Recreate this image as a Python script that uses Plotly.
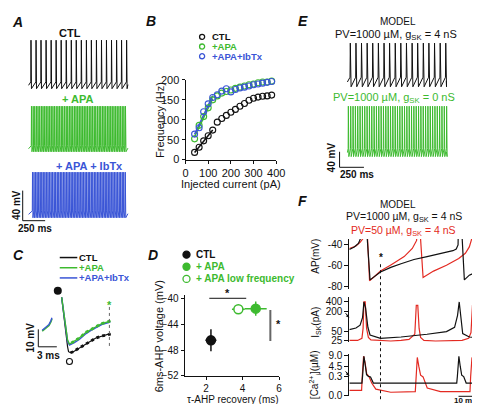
import numpy as np
import plotly.graph_objects as go

W, H = 480, 404
FONT = "Liberation Sans, Arial, Helvetica, sans-serif"
BLACK = "#111111"
GREEN = "#3dba2f"
BLUE = "#3a55d6"
RED = "#e32a22"
GRAY = "#666666"

# ---------------- data ----------------
# Panel A: spike times (ms) of the three recordings, voltage levels [peak, threshold, trough] (mV)
a_ctl_spikes = [26, 80, 133, 187, 241, 294, 348, 402, 456, 509, 563, 617, 670, 724, 778, 831, 885, 939, 992, 1046]
a_apa_spikes = [31, 49, 66, 84, 101, 119, 137, 154, 172, 189, 207, 225, 242, 260, 277, 295, 313, 330, 348, 365,
                383, 401, 418, 436, 453, 471, 489, 506, 524, 541, 559, 577, 594, 612, 629, 647, 665, 682, 700, 717,
                735, 753, 770, 788, 805, 823, 841, 858, 876, 893, 911, 929, 946, 964, 981, 999, 1017, 1034]
a_ibtx_spikes = [42, 58, 75, 91, 108, 124, 141, 157, 174, 190, 207, 223, 240, 256, 273, 289, 306, 322, 339, 355,
                 372, 388, 405, 421, 438, 454, 471, 487, 504, 520, 537, 553, 570, 586, 603, 619, 636, 652, 669, 685,
                 702, 718, 735, 751, 768, 784, 801, 817, 834, 850, 867, 883, 900, 916, 933, 949, 966, 982, 999, 1015, 1032]
a_ctl_levels = [5, -50, -59]
a_apa_levels = [5, -47, -55]
a_ibtx_levels = [5, -46, -55]

# Panel B: f-I curves
b_current = [40, 60, 80, 100, 120, 140, 160, 180, 200, 220, 240, 260, 280, 300, 320, 340, 360, 380]
b_ctl = [18, 31, 47, 60, 74, 94, 103, 111, 119, 126, 134, 141, 149, 154, 157, 159, 160, 162]
b_apa = [52, 86, 108, 130, 150, 160, 167, 171, 175, 179, 182, 185, 188, 190, 193, 195, 195, 197]
b_ibtx = [64, 80, 120, 140, 156, 163, 172, 178, 170, 176, 180, 182, 185, 188, 190, 192, 194, 196]
b_names = ["CTL", "+APA", "+APA+IbTx"]

# Panel C: AHP waveforms (ms, mV)
c_pre_t = [-2.54, -1.9, -1.43, -1.11, -0.95]
c_pre_v = [-44.3, -42.7, -41.0, -38.8, -37.2]
c_ctl_t = [0.63, 0.95, 1.27, 1.59, 1.75, 2.06, 2.54, 3.02, 3.81, 4.6, 5.4, 6.2, 7.1, 8.25, 8.6]
c_ctl_v = [-24.9, -35, -46, -53.2, -56, -56.6, -56, -54.9, -53.2, -51.6, -49.9, -48.2, -47.1, -46, -46]
c_apa_t = [0.63, 0.95, 1.27, 1.59, 1.9, 2.22, 2.7, 3.49, 4.6, 5.4, 6.2, 7.14, 8.25, 8.57]
c_apa_v = [-24.9, -33.8, -43.2, -49.3, -51.6, -51, -49.9, -48.2, -44.9, -43.2, -41.5, -39.9, -38.8, -38.2]
c_ibtx_v = [-24.9, -34.5, -44, -50, -52.2, -51.8, -50.8, -49, -45.6, -43.8, -42.1, -40.5, -39.3, -38.8]
c_peak_point = [0.0, -21.1]
c_trough_point = [1.9, -61.6]
c_measure_t = 8.4

# Panel D: summary
d_names = ["CTL", "+ APA", "+ APA low frequency"]
d_tau = [2.27, 4.72, 3.77]
d_tau_err = [0.3, 0.6, 0.35]
d_volt = [-46.5, -41.6, -41.7]
d_volt_err = [1.7, 1.1, 0.7]

# Panel E: model spike times (ms), levels [peak, threshold, trough]
e_gsk4_spikes = [30, 88, 145, 203, 260, 318, 376, 433, 491, 548, 606, 664, 721, 779, 836, 894, 952, 1009]
e_gsk0_spikes = [10, 34, 58, 82, 106, 130, 154, 178, 202, 226, 250, 274, 298, 322, 346, 370, 394, 418, 442, 466,
                 490, 514, 538, 562, 586, 610, 634, 658, 682, 706, 730, 754, 778, 802, 826, 850, 874, 898, 922, 946,
                 970, 994, 1018]
e_gsk4_levels = [30, -56, -80]
e_gsk0_levels = [30, -75, -95]

# Panel F: model traces (ms)
f_ap1000_t = [0, 3, 5.5, 6.7, 8.5, 10.2, 12.5, 18.8, 25, 31.2, 39, 46.9, 52.7, 58.6, 62.5, 64.5, 65.6, 66.3, 67.5, 69.4, 72.4, 78]
f_ap1000_v = [-44.3, -42, -38.5, -34, 20, -20, -73.5, -66, -61.5, -58, -54, -51.2, -49, -47, -45.5, -44, -40, 20, -20, -73.5, -69, -65]
f_ap50_t = [0, 4, 6.5, 8.2, 9.4, 10.6, 12.2, 15, 18.8, 25.3, 33.1, 38, 40.6, 41.3, 42.4, 44.5, 50.8, 58.6, 66, 70, 72.4, 73.7, 74.6, 75.8, 76.4]
f_ap50_v = [-43.4, -41, -37.5, -34, 20, -20, -74.4, -70.5, -65.1, -58.9, -51.2, -43.4, -35.7, 20, -20, -71.3, -65.1, -59.5, -53, -48, -41.9, -35, 20, -20, -57]
f_isk1000_t = [0, 4, 6.5, 8.0, 8.8, 9.8, 11.2, 12.5, 18.8, 31.2, 46.9, 58.6, 63.5, 65.3, 66.3, 67.2, 68.4, 72.4, 78]
f_isk1000_v = [55, 62, 75, 130, 380, 250, 65, 38, 30, 33, 40, 48, 65, 150, 380, 160, 42, 33, 31]
f_isk50_t = [0, 5, 7.6, 8.3, 8.8, 9.6, 10.4, 11.5, 13, 18.8, 25, 31.2, 36, 39.5, 40.4, 41.3, 42.1, 43, 45, 52, 60, 68, 72, 73.4, 74.3, 75.2, 76, 78]
f_isk50_v = [26, 26, 30, 60, 380, 380, 60, 32, 27, 26, 25, 26, 28, 40, 300, 300, 60, 32, 26, 25, 25, 26, 30, 45, 300, 300, 60, 35]
f_ca1000_t = [0, 7.6, 8.0, 8.8, 9.6, 10.4, 11.5, 12.8, 14.5, 30, 50, 64.8, 65.2, 66.1, 66.9, 67.8, 69, 70.5, 78]
f_ca1000_c = [0.2, 0.2, 0.6, 8.7, 5.0, 1.2, 0.5, 0.3, 0.2, 0.2, 0.2, 0.2, 0.6, 8.7, 4.5, 1.0, 0.4, 0.2, 0.2]
f_ca50_t = [0, 7.4, 7.8, 8.6, 9.5, 10.5, 11.8, 13.5, 16, 25, 39.8, 40.2, 41.0, 41.9, 43, 44.5, 47, 55, 72.8, 73.2, 74.0, 74.9, 76, 77.5, 78]
f_ca50_c = [0.08, 0.08, 0.5, 8.7, 6, 1.5, 0.5, 0.2, 0.1, 0.05, 0.06, 0.5, 8.2, 4.5, 1.0, 0.3, 0.12, 0.06, 0.06, 0.5, 8.2, 4.5, 1.0, 0.3, 0.2]
f_ca_ticks = [0.0, 0.3, 4.5, 9.0]
f_ca_tick_pos = [0, 19, 30, 41]   # broken (non-linear) display scale of the Ca axis
f_marker_t = 18.8

# ---------------- helpers ----------------
layout_axes = {}
count = [0]


def lin_range(va, pa, vb, pb, p0, p1):
    s = (vb - va) / (pb - pa)
    return [va + (p0 - pa) * s, va + (p1 - pa) * s]


def new_axes(xdom, ydom, xrange, yrange, xkw=None, ykw=None):
    count[0] += 1
    n = count[0]
    sx = '' if n == 1 else str(n)
    xa = dict(domain=[xdom[0] / W, xdom[1] / W], range=xrange, anchor='y' + sx,
              showgrid=False, zeroline=False, visible=False, fixedrange=True)
    ya = dict(domain=[1 - ydom[1] / H, 1 - ydom[0] / H], range=yrange, anchor='x' + sx,
              showgrid=False, zeroline=False, visible=False, fixedrange=True)
    if xkw:
        xa.update(xkw)
    if ykw:
        ya.update(ykw)
    layout_axes['xaxis' + sx] = xa
    layout_axes['yaxis' + sx] = ya
    return 'x' + sx, 'y' + sx


def spike_train(spikes, t_end, levels, rise=2.0, fall=5.0):
    peak, thr, trough = levels
    t = [0.0]
    v = [trough + 0.5 * (thr - trough)]
    for s in spikes:
        t += [s - rise, s, s + fall]
        v += [thr, peak, trough]
    t.append(t_end)
    v.append(trough + 0.6 * (thr - trough))
    return t, v


annotations = []
shapes = []


def ann(text, x, y, size=10, color=BLACK, angle=0, xanchor='center', yanchor='middle'):
    annotations.append(dict(text=text, x=x / W, y=1 - y / H, xref='paper', yref='paper',
                            showarrow=False, textangle=angle, xanchor=xanchor, yanchor=yanchor,
                            borderpad=0, font=dict(size=size, color=color, family=FONT)))


def pline(x0, y0, x1, y1, color=BLACK, width=1, dash='solid'):
    shapes.append(dict(type='line', xref='paper', yref='paper', x0=x0 / W, y0=1 - y0 / H,
                       x1=x1 / W, y1=1 - y1 / H, line=dict(color=color, width=width, dash=dash)))


def pcircle(cx, cy, r, fill, line):
    shapes.append(dict(type='circle', xref='paper', yref='paper', x0=(cx - r) / W, x1=(cx + r) / W,
                       y0=1 - (cy + r) / H, y1=1 - (cy - r) / H, fillcolor=fill,
                       line=dict(color=line, width=1.3)))


fig = go.Figure()


def line_trace(xa, ya, t, v, color, width=1.0, dash='solid', mode='lines'):
    fig.add_trace(go.Scatter(x=t, y=v, xaxis=xa, yaxis=ya, mode=mode,
                             line=dict(color=color, width=width, dash=dash), hoverinfo='skip'))


# ---------------- Panel A ----------------
a_xr = lin_range(0, 18, 1040, 118, 17, 121)
for spikes, lev, color, (top, bot) in [
        (a_ctl_spikes, a_ctl_levels, BLACK, (27, 77)),
        (a_apa_spikes, a_apa_levels, GREEN, (95, 142)),
        (a_ibtx_spikes, a_ibtx_levels, BLUE, (163, 210))]:
    ax, ay = new_axes((17, 121), (top - 3, bot + 3), a_xr,
                      lin_range(lev[0], top, lev[2], bot, bot + 3, top - 3))
    t, v = spike_train(spikes, 1060, lev, rise=2.0, fall=5.0)
    line_trace(ax, ay, t, v, color, 1.0)

ann("<b><i>A</i></b>", 7, 8, 14)
ann("<b>CTL</b>", 60, 20, 11)
ann("<b>+ APA</b>", 69, 88, 11, GREEN)
ann("<b>+ APA + IbTx</b>", 80, 157, 11, BLUE)
pline(12, 182, 12, 213)
pline(12, 213, 35, 213)
ann("<b>40 mV</b>", 5, 197, 10, angle=-90)
ann("<b>250 ms</b>", 25, 221, 10)

# ---------------- Panel B ----------------
axis_style = dict(visible=True, showline=True, linecolor=BLACK, linewidth=1, ticks='outside',
                  ticklen=3, tickwidth=1, tickcolor=BLACK, tickfont=dict(size=11, color=BLACK, family=FONT))
bx, by = new_axes((179, 272), (68, 150), [0, 400], [0, 200],
                  dict(axis_style, tickvals=[0, 100, 200, 300, 400]),
                  dict(axis_style, tickvals=[0, 50, 100, 150, 200]))
for vals, color in [(b_ctl, BLACK), (b_apa, GREEN), (b_ibtx, BLUE)]:
    cur = np.array(b_current[:5], dtype=float)
    k, c0 = np.polyfit(cur, np.array(vals[:5], dtype=float), 1)
    line_trace(bx, by, [cur[0], cur[-1]], [k * cur[0] + c0, k * cur[-1] + c0], color, 1.5)
for vals, color in [(b_ctl, BLACK), (b_apa, GREEN), (b_ibtx, BLUE)]:
    fig.add_trace(go.Scatter(x=b_current, y=vals, xaxis=bx, yaxis=by, mode='markers', cliponaxis=False,
                             marker=dict(symbol='circle-open', size=6, color=color, line=dict(width=1.1)),
                             hoverinfo='skip'))
ann("<b><i>B</i></b>", 144, 7, 14)
for i, (name, color) in enumerate(zip(b_names, [BLACK, GREEN, BLUE])):
    yy = 23.5 + i * 10
    pcircle(196, yy, 2.6, 'rgba(0,0,0,0)', color)
    ann("<b>" + name + "</b>", 205, yy, 9.5, color, xanchor='left')
ann("Frequency (Hz)", 153, 109, 11, angle=-90)
ann("Injected current (pA)", 226, 175, 11)

# ---------------- Panel C ----------------
cx, cy = new_axes((18, 112), (278, 364), lin_range(0, 48, 1, 54.3, 18, 112),
                  lin_range(-46, 330, -56, 348, 364, 278))
line_trace(cx, cy, c_pre_t, c_pre_v, GREEN, 1.6)
line_trace(cx, cy, c_pre_t, [v + 0.6 for v in c_pre_v], BLUE, 1.4)
line_trace(cx, cy, c_ctl_t, c_ctl_v, BLACK, 1.2)
line_trace(cx, cy, c_ctl_t[5:], c_ctl_v[5:], BLACK, 2.8, 'dot')
line_trace(cx, cy, c_apa_t, c_ibtx_v, BLUE, 1.5)
line_trace(cx, cy, c_apa_t, c_apa_v, GREEN, 1.3)
line_trace(cx, cy, c_apa_t[5:], c_apa_v[5:], GREEN, 2.8, 'dot')
fig.add_trace(go.Scatter(x=[c_peak_point[0]], y=[c_peak_point[1]], xaxis=cx, yaxis=cy, mode='markers',
                         cliponaxis=False, marker=dict(size=8, color=BLACK), hoverinfo='skip'))
fig.add_trace(go.Scatter(x=[c_trough_point[0]], y=[c_trough_point[1]], xaxis=cx, yaxis=cy, mode='markers',
                         cliponaxis=False, marker=dict(size=6, color='white', line=dict(color=BLACK, width=1.1)),
                         hoverinfo='skip'))
shapes.append(dict(type='line', xref=cx, yref=cy, x0=c_measure_t, x1=c_measure_t, y0=-30.4, y1=-53.2,
                   line=dict(color=GRAY, width=1, dash='dot')))
ann("<b>*</b>", 101, 300, 11, GREEN)
ann("<b><i>C</i></b>", 8, 248, 14)
for i, (name, color) in enumerate(zip(b_names, [BLACK, GREEN, BLUE])):
    yy = 251 + i * 10.5
    pline(50, yy, 68, yy, color, 1.5)
    ann("<b>" + name + "</b>", 69, yy, 9.5, color, xanchor='left')
pline(28, 325, 28, 343)
pline(28, 343, 47, 343)
ann("<b>10 mV</b>", 20, 334, 10, angle=-90)
ann("<b>3 ms</b>", 38, 352, 10)

# ---------------- Panel D ----------------
d_axis = dict(axis_style, tickfont=dict(size=10, color=BLACK, family=FONT))
dx, dy = new_axes((178, 275), (290, 373), lin_range(2, 200, 6, 275, 178, 275),
                  lin_range(-40, 293, -52, 373, 373, 290),
                  dict(d_axis, tickvals=[2, 4, 6]),
                  dict(d_axis, tickvals=[-40, -44, -48, -52]))
d_fill = [BLACK, GREEN, 'white']
d_line = [BLACK, GREEN, GREEN]
for i in range(3):
    fig.add_trace(go.Scatter(x=[d_tau[i]], y=[d_volt[i]], xaxis=dx, yaxis=dy, mode='markers', cliponaxis=False,
                             error_x=dict(type='data', array=[d_tau_err[i]], color=d_line[i], thickness=1.5, width=0),
                             error_y=dict(type='data', array=[d_volt_err[i]], color=d_line[i], thickness=1.5, width=0),
                             marker=dict(size=9, color=d_fill[i], line=dict(color=d_line[i], width=1.5)),
                             hoverinfo='skip'))
shapes.append(dict(type='line', xref=dx, yref=dy, x0=2.18, x1=4.2, y0=-40, y1=-40, line=dict(color=BLACK, width=1)))
shapes.append(dict(type='line', xref=dx, yref=dy, x0=5.52, x1=5.52, y0=-41.8, y1=-46.6, line=dict(color=GRAY, width=2)))
ann("<b>*</b>", 222, 288, 11)
ann("<b>*</b>", 274, 319, 11)
ann("<b><i>D</i></b>", 146, 248, 14)
for i, name in enumerate(d_names):
    yy = 248 + i * 12.5
    pcircle(180, yy, 3.6, d_fill[i], d_line[i])
    ann("<b>" + name + "</b>", 189, yy, 10, d_line[i], xanchor='left')
ann("6ms-AHP voltage (mV)", 152, 332, 11, angle=-90)
ann("τ-AHP recovery (ms)", 228, 397.5, 10)

# ---------------- Panel E ----------------
e_xr = lin_range(0, 345, 1000, 445, 344, 449)
for spikes, lev, color, (top, bot), rise, fall in [
        (e_gsk4_spikes, e_gsk4_levels, BLACK, (30, 75), 3.0, 8.0),
        (e_gsk0_spikes, e_gsk0_levels, GREEN, (95, 147), 2.0, 5.0)]:
    ax, ay = new_axes((344, 449), (top - 3, bot + 3), e_xr,
                      lin_range(lev[0], top, lev[2], bot, bot + 3, top - 3))
    t, v = spike_train(spikes, 1015, lev, rise=rise, fall=fall)
    line_trace(ax, ay, t, v, color, 1.0)
ann("<b><i>E</i></b>", 299, 7, 14)
ann("MODEL", 397, 8, 10)
ann("PV=1000 µM, g<sub>SK</sub> = 4 nS", 395, 22, 11)
ann("PV=1000 µM, g<sub>SK</sub> = 0 nS", 393, 87, 11, GREEN)
pline(337, 142, 337, 158)
pline(337, 158, 362, 158)
ann("<b>40 mV</b>", 329, 148, 10, angle=-90)
ann("<b>250 ms</b>", 355, 165, 10)

# ---------------- Panel F ----------------
f_axis = dict(visible=True, showline=True, linecolor=BLACK, linewidth=1, ticks='outside', ticklen=4,
              tickwidth=1, tickcolor=BLACK, tickfont=dict(size=10, color=BLACK, family=FONT))
f_xr = lin_range(0, 347, 10, 364, 347, 479)
apx, apy = new_axes((347, 479), (232, 283), f_xr, lin_range(-40, 238, -80, 281, 283, 232),
                    None, dict(f_axis, tickvals=[-40, -60, -80], ticktext=["-40", "-60", "-80"]))
line_trace(apx, apy, f_ap50_t, f_ap50_v, RED, 1.2)
line_trace(apx, apy, f_ap1000_t, f_ap1000_v, BLACK, 1.2)

skx, sky = new_axes((347, 479), (292, 338), f_xr,
                    lin_range(np.log10(400), 296, np.log10(25), 337, 338, 292),
                    None, dict(f_axis, type='log', tickvals=[25, 50, 200, 400], ticktext=["25", "50", "200", "400"]))
line_trace(skx, sky, f_isk50_t, f_isk50_v, RED, 1.2)
line_trace(skx, sky, f_isk1000_t, f_isk1000_v, BLACK, 1.2)

cax, cay = new_axes((347, 479), (350, 394), f_xr, [-1, 43],
                    None, dict(f_axis, tickvals=f_ca_tick_pos, ticktext=["%.1f" % c for c in f_ca_ticks]))
line_trace(cax, cay, f_ca50_t, list(np.interp(f_ca50_c, f_ca_ticks, f_ca_tick_pos)), RED, 1.2)
line_trace(cax, cay, f_ca1000_t, list(np.interp(f_ca1000_c, f_ca_ticks, f_ca_tick_pos)), BLACK, 1.2)

shapes.append(dict(type='line', xref=apx, yref='paper', x0=f_marker_t, x1=f_marker_t,
                   y0=1 - 397 / H, y1=1 - 255 / H, line=dict(color=BLACK, width=1, dash='dot')))
ann("<b>*</b>", 379, 251, 10)
ann("<b><i>F</i></b>", 299, 193, 14)
ann("MODEL", 397, 196, 10)
ann("PV=1000 µM, g<sub>SK</sub> = 4 nS", 403, 209.5, 10.5)
ann("PV=50 µM, g<sub>SK</sub> = 4 nS", 403, 223.5, 10.5, RED)
ann("AP(mV)", 312, 250, 10, angle=-90)
ann("I<sub>SK</sub>(pA)", 312, 318, 10, angle=-90)
ann("[Ca<sup>2+</sup><sub>i</sub>](µM)", 312, 372, 10, angle=-90)
pline(459, 394, 476, 394)
ann("<b>10 ms</b>", 466, 404, 8, yanchor='bottom')
for (x1, y1) in [(347, 313), (347, 373)]:
    annotations.append(dict(x=x1 / W, y=1 - y1 / H, xref='paper', yref='paper', text='', showarrow=True,
                            ax=-5, ay=-6, arrowhead=2, arrowsize=0.7, arrowwidth=1, arrowcolor=BLACK))

fig.update_layout(width=W, height=H, margin=dict(l=0, r=0, t=0, b=0), showlegend=False,
                  paper_bgcolor='white', plot_bgcolor='rgba(0,0,0,0)',
                  font=dict(family=FONT, color=BLACK), annotations=annotations, shapes=shapes,
                  **layout_axes)
fig.write_html("out.html")
